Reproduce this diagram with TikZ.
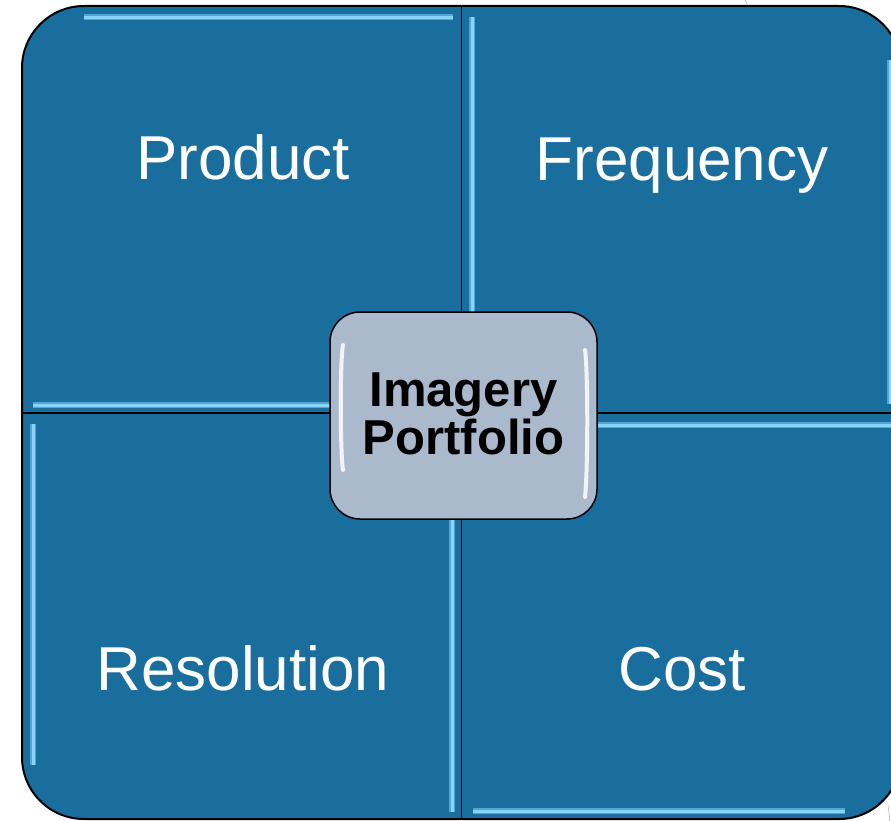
\documentclass[tikz,border=0pt]{standalone}
\usepackage{fontspec}
\setmainfont{Liberation Sans}
\definecolor{quad}{RGB}{26,110,158}
\definecolor{hlout}{RGB}{85,165,212}
\definecolor{hlin}{RGB}{135,212,246}
\definecolor{core}{RGB}{170,186,204}
\tikzset{
  hlstrip/.style={line width=6pt, hlout, line cap=butt},
  hlcore/.style={line width=3pt, hlin, line cap=butt},
  divider/.style={line width=1.4pt, black},
  quadtext/.style={text=white, font=\fontsize{62}{70}\selectfont, anchor=base, inner sep=0pt},
  coretext/.style={text=black, font=\bfseries\fontsize{49}{52}\selectfont, align=center, inner sep=0pt},
  shine/.style={line width=4pt, white, line cap=round, opacity=0.85}
}
\begin{document}
\begin{tikzpicture}[x=1pt,y=-1pt]
\useasboundingbox (0,0) rectangle (891,821);
\begin{scope}
\clip (0,0) rectangle (891,821);
% thin grey lines behind
\draw[gray!60, line width=0.6pt] (745,0) -- (748,6);
\draw[gray!60, line width=0.6pt] (888,805) -- (890,821);
% outer body
\path[fill=quad, rounded corners=62pt] (22,6) rectangle (901,819);
\begin{scope}
\clip[rounded corners=62pt] (22,6) rectangle (901,819);
% top-left highlights (horizontal)
\draw[hlstrip] (84,17.5) -- (453,17.5);
\draw[hlcore]  (84,17.5) -- (453,17.5);
\draw[hlstrip] (33,405) -- (461,405);
\draw[hlcore]  (33,405) -- (461,405);
% top-right highlights (vertical)
\draw[hlstrip] (472,17) -- (472,404);
\draw[hlcore]  (472,17) -- (472,404);
\draw[hlstrip] (890,60) -- (890,404);
\draw[hlcore]  (890,60) -- (890,404);
% bottom-left highlights (vertical)
\draw[hlstrip] (33,424) -- (33,765);
\draw[hlcore]  (33,424) -- (33,765);
\draw[hlstrip] (452,424) -- (452,812);
\draw[hlcore]  (452,424) -- (452,812);
% bottom-right highlights (horizontal)
\draw[hlstrip] (471,425) -- (901,425);
\draw[hlcore]  (471,425) -- (901,425);
\draw[hlstrip] (473,811) -- (845,811);
\draw[hlcore]  (473,811) -- (845,811);
\end{scope}
% dividers
\draw[divider] (461.5,6) -- (461.5,819);
\draw[divider] (22,413) -- (901,413);
% outer outline
\draw[line width=2pt, rounded corners=62pt] (22,6) rectangle (901,819);
\end{scope}
% labels
\node[quadtext] (product) at (243,180) {Product};
\node[quadtext] (frequency) at (682,181) {Frequency};
\node[quadtext] (resolution) at (243,690) {Resolution};
\node[quadtext] (cost) at (682,690) {Cost};
% center box
\draw[fill=core, line width=1.5pt, rounded corners=30pt] (330,312) rectangle (597,519);
\draw[shine] (343,345) .. controls (340,360) and (340,450) .. (343,470);
\draw[shine] (585,350) .. controls (588,370) and (588,470) .. (585,497);
\node[coretext] (core) at (463.5,414) {Imagery\\[-4pt]Portfolio};
\end{tikzpicture}
\end{document}
